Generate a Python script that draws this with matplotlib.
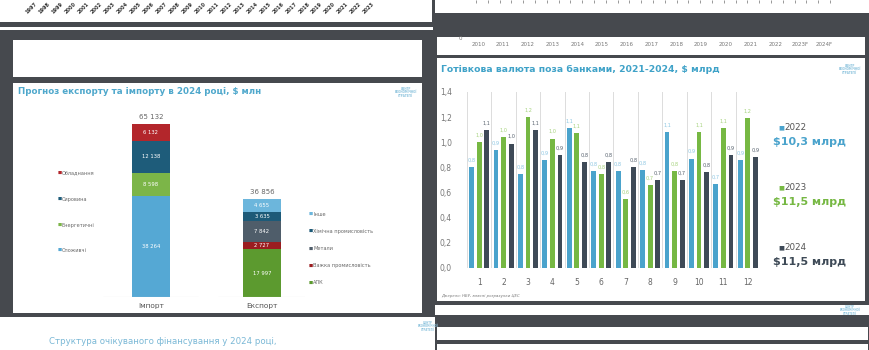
import numpy as np
import matplotlib
matplotlib.use("Agg")
import matplotlib.pyplot as plt
from matplotlib.patches import Rectangle

plt.rcParams['font.family'] = ['DejaVu Sans']

# --- data: cash currency outside banks, $ bn, by month
months = [1, 2, 3, 4, 5, 6, 7, 8, 9, 10, 11, 12]
cash_2022 = [0.80, 0.94, 0.75, 0.86, 1.11, 0.77, 0.77, 0.78, 1.08, 0.87, 0.67, 0.86]
cash_2023 = [1.00, 1.04, 1.20, 1.03, 1.07, 0.75, 0.55, 0.66, 0.77, 1.08, 1.11, 1.19]
cash_2024 = [1.10, 0.99, 1.10, 0.90, 0.84, 0.84, 0.80, 0.70, 0.70, 0.76, 0.90, 0.88]
cash_years = ['2022', '2023', '2024']
cash_totals = ['$10,3 млрд', '$11,5 млрд', '$11,5 млрд']
y_ticks = [0.0, 0.2, 0.4, 0.6, 0.8, 1.0, 1.2, 1.4]

# --- data: export / import forecast 2024, $ mln
import_names = ['Споживчі', 'Енергетичні', 'Сировина', 'Обладнання']
import_vals = [38264, 8598, 12138, 6132]
export_names = ['АПК', 'Важка промисловість', 'Метали', 'Хімічна промисловість', 'Інше']
export_vals = [17997, 2727, 7842, 3635, 4655]
trade_labels = ['Імпорт', 'Експорт']

# --- tick labels of neighbouring slides
top_left_years = [str(y) for y in range(1997, 2024)]
top_right_years = [str(y) for y in range(2010, 2023)] + ['2023F', '2024F']

W, H = 870, 350
DARK = '#46494e'
fig = plt.figure(figsize=(W / 100, H / 100), dpi=100)
fig.patch.set_facecolor(DARK)


def rect(x0, y0, x1, y1):
    return [x0 / W, 1 - y1 / H, (x1 - x0) / W, (y1 - y0) / H]


def box(x0, y0, x1, y1, color='white'):
    fig.add_artist(Rectangle((x0 / W, 1 - y1 / H), (x1 - x0) / W, (y1 - y0) / H,
                             transform=fig.transFigure, color=color, lw=0, zorder=0))


def ftext(x, y, s, **kw):
    fig.text(x / W, 1 - y / H, s, **kw)


def logo(x, y, size=2.0):
    ftext(x, y, 'ЦЕНТР\nЕКОНОМІЧНОЇ\nСТРАТЕГІЇ', fontsize=size, color='#8cc3dd',
          ha='center', va='center', linespacing=0.9, fontweight='bold')


def bare(ax):
    ax.patch.set_visible(False)
    for s in ax.spines.values():
        s.set_visible(False)


# white slide pieces on the dark screen
box(0, 0, 432, 22)
box(0, 27, 433, 30)
box(13, 40, 422, 77)
box(13, 83, 422, 313)
box(0, 317, 435, 350)
box(435, 0, 870, 13)
box(437, 37, 865, 55)
box(437, 58, 865, 301)
box(435, 305, 870, 315)
box(437, 327, 868, 340)
box(437, 344, 868, 350)

# ---------------- top-left fragment: rotated year labels
ax = fig.add_axes(rect(32, -8, 382, 1))
ax.set_xlim(-0.5, len(top_left_years) - 0.5)
ax.set_xticks(range(len(top_left_years)), top_left_years, rotation=45, ha='right',
              fontsize=3.6, color='#333333', fontweight='bold')
ax.tick_params(length=0, pad=0)
ax.set_yticks([])
bare(ax)

# ---------------- top-right fragments
ax = fig.add_axes(rect(470, -10, 836, 0))
ax.set_xlim(-0.5, 30.5)
ax.set_xticks(range(31), [''] * 31)
ax.tick_params(axis='x', length=2.5, width=0.6, color='#888888')
ax.set_yticks([])
bare(ax)

ax = fig.add_axes(rect(466, 30, 837, 38))
ax.set_xlim(-0.5, len(top_right_years) - 0.5)
ax.set_ylim(0, 1)
ax.set_xticks(range(len(top_right_years)), top_right_years, fontsize=4, color='#777777')
ax.set_yticks([0], ['0'], fontsize=4, color='#777777')
ax.tick_params(length=0, pad=3)
bare(ax)

# ---------------- left slide: export / import forecast
ftext(18, 91, 'Прогноз експорту та імпорту в 2024 році, $ млн', fontsize=6.3,
      fontweight='bold', color='#4fa8cc', va='center')
logo(406, 92)

imp_colors = ['#55a8d4', '#7cb548', '#1e5c7a', '#b3262b']
exp_colors = ['#5c9a2f', '#9b1d20', '#4f5d6a', '#1d5a78', '#6cb6dc']
px_per_k = 2.65
ax = fig.add_axes(rect(103, 100, 305, 297))
ax.set_xlim(-0.432, 1.387)
ax.set_ylim(0, 197 / px_per_k * 1000)
bw = 0.335
for pos, vals, colors in [(0, import_vals, imp_colors), (1, export_vals, exp_colors)]:
    bottom = 0
    for v, c in zip(vals, colors):
        ax.bar(pos, v, bw, bottom=bottom, color=c, lw=0)
        ax.text(pos, bottom + v / 2, f'{v:,}'.replace(',', ' '), ha='center', va='center',
                fontsize=3.8, color='white')
        bottom += v
    ax.text(pos, bottom + 1500, f'{bottom:,}'.replace(',', ' '), ha='center', va='bottom',
            fontsize=5, color='#666666')
ax.hlines(0, -0.432, 0.423, color='#d6d6d6', lw=0.8)
ax.hlines(0, 0.604, 1.387, color='#d6d6d6', lw=0.8)
ax.set_xticks([0, 1], trade_labels, fontsize=5.3, color='#555555')
ax.tick_params(axis='x', length=0, pad=4)
ax.set_yticks([])
bare(ax)

# legends of the stacked bars
imp_legend_y = [173, 199, 225, 250]
for name, c, y in zip(import_names[::-1], imp_colors[::-1], imp_legend_y):
    ftext(58, y, '■', fontsize=3.2, color=c, va='center')
    ftext(62, y, name, fontsize=3.6, color='#666666', va='center')
exp_legend_y = [214, 231, 249, 266, 283]
for name, c, y in zip(export_names[::-1], exp_colors[::-1], exp_legend_y):
    ftext(309, y, '■', fontsize=3.2, color=c, va='center')
    ftext(313, y, name, fontsize=3.6, color='#666666', va='center')

# ---------------- right slide: cash outside banks
ftext(441, 69, 'Готівкова валюта поза банками, 2021-2024, $ млрд', fontsize=6.7,
      fontweight='bold', color='#3fa2c8', va='center')
logo(850, 69)

bar_colors = ['#4aa3cc', '#76b843', '#3e4a57']
lab_colors = ['#8cc6e2', '#a5d27c', '#55606c']
ax = fig.add_axes(rect(467, 92, 760, 268))
x = np.array(months)
off = 0.31
for i, (vals, c, lc) in enumerate(zip([cash_2022, cash_2023, cash_2024], bar_colors, lab_colors)):
    xs = x + (i - 1) * off
    ax.bar(xs, vals, 0.2, color=c, lw=0, zorder=2)
    for xv, v in zip(xs, vals):
        ax.text(xv, v + 0.035, f'{v:.1f}'.replace('.', ','), ha='center', va='bottom',
                fontsize=3.6, color=lc, zorder=3)
ax.set_xlim(0.5, 12.5)
ax.set_ylim(0, 1.4)
ax.set_yticks(y_ticks, [f'{t:.1f}'.replace('.', ',') for t in y_ticks],
              fontsize=5.5, color='#777777')
ax.set_xticks(months, [str(m) for m in months], fontsize=5.5, color='#666666')
ax.set_xticks(np.arange(0.5, 13, 1), minor=True)
ax.grid(which='minor', axis='x', color='#dcdcdc', lw=0.7, zorder=0)
ax.tick_params(which='both', length=0)
ax.tick_params(axis='y', pad=11)
ax.tick_params(axis='x', pad=7)
for s in ax.spines.values():
    s.set_visible(False)

legend_y = [128, 188, 248]
for yr, tot, c, y in zip(cash_years, cash_totals, bar_colors, legend_y):
    ftext(778, y, '■', fontsize=4.5, color=c, va='center')
    ftext(784, y, yr, fontsize=6.3, color='#555555', va='center')
    ftext(773, y + 14, tot, fontsize=8, fontweight='bold', color=c, va='center')

ftext(441, 296, 'Джерело: НБУ, власні розрахунки ЦЕС', fontsize=2.8, style='italic',
      color='#777777', va='center')

# ---------------- bottom fragments
ftext(49, 342, 'Структура очікуваного фінансування у 2024 році,', fontsize=6.2,
      color='#7ab8d6', va='center')
logo(428, 326, 1.8)
logo(850, 310, 1.8)

fig.savefig('out.png', dpi=100, facecolor=fig.get_facecolor())
